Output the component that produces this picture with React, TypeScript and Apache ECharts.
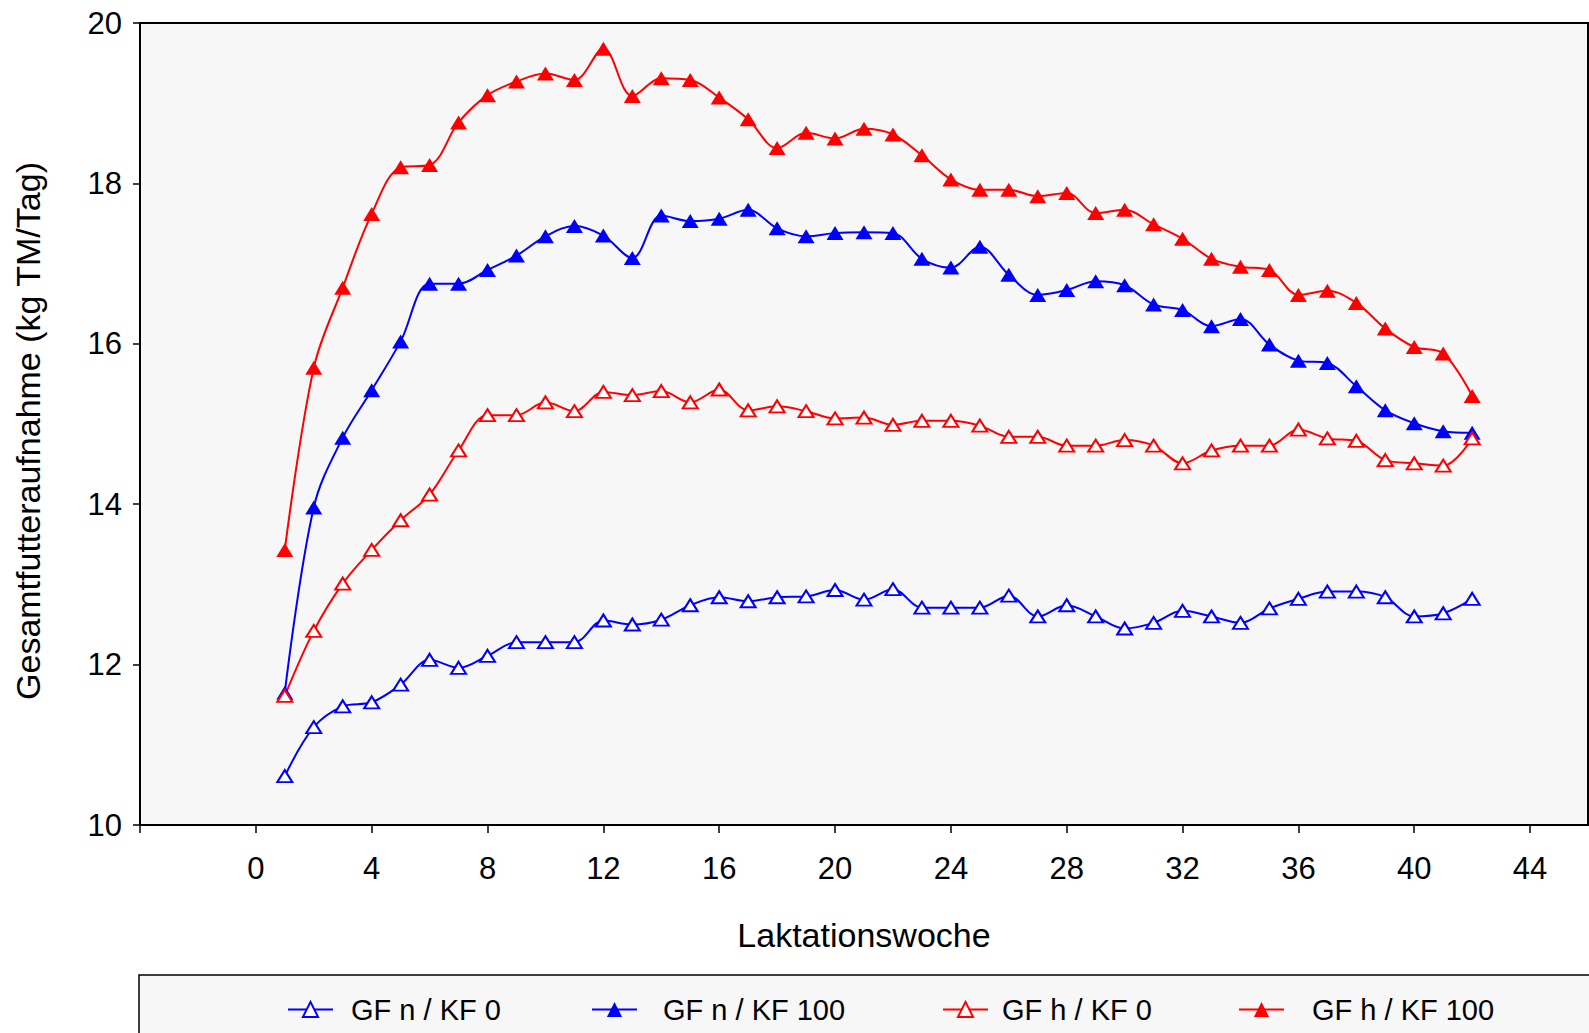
import React, { useEffect, useRef } from "react";
import * as echarts from "echarts";

const weeks = [1,2,3,4,5,6,7,8,9,10,11,12,13,14,15,16,17,18,19,20,21,22,23,24,25,26,27,28,29,30,31,32,33,34,35,36,37,38,39,40,41,42];

const gfnKf0 = [10.61,11.22,11.48,11.53,11.75,12.06,11.96,12.11,12.28,12.28,12.28,12.55,12.5,12.56,12.74,12.84,12.79,12.84,12.85,12.93,12.81,12.94,12.71,12.71,12.71,12.86,12.6,12.74,12.6,12.45,12.52,12.67,12.6,12.52,12.7,12.82,12.91,12.91,12.84,12.6,12.64,12.82];
const gfnKf100 = [11.65,13.96,14.83,15.42,16.03,16.75,16.75,16.92,17.1,17.34,17.47,17.35,17.07,17.6,17.53,17.56,17.67,17.44,17.34,17.38,17.39,17.38,17.06,16.95,17.21,16.86,16.61,16.67,16.78,16.73,16.49,16.42,16.22,16.31,15.99,15.79,15.76,15.47,15.17,15.01,14.91,14.89];
const gfhKf0 = [11.61,12.42,13.01,13.43,13.8,14.12,14.67,15.11,15.11,15.27,15.16,15.4,15.36,15.41,15.27,15.43,15.17,15.22,15.16,15.07,15.08,14.99,15.04,15.04,14.98,14.84,14.84,14.73,14.73,14.8,14.73,14.51,14.67,14.73,14.73,14.93,14.82,14.79,14.55,14.51,14.48,14.82];
const gfhKf100 = [13.43,15.7,16.7,17.62,18.2,18.23,18.76,19.1,19.27,19.37,19.29,19.68,19.09,19.31,19.29,19.07,18.8,18.44,18.63,18.56,18.68,18.61,18.35,18.05,17.92,17.92,17.84,17.88,17.63,17.67,17.49,17.31,17.06,16.96,16.92,16.61,16.66,16.51,16.19,15.96,15.88,15.35];

const seriesNames = ["GF n / KF 0", "GF n / KF 100", "GF h / KF 0", "GF h / KF 100"];
const seriesColors = ["#0000ff", "#0000ff", "#ff0000", "#ff0000"];
const seriesFilled = [false, true, false, true];
const seriesValues = [gfnKf0, gfnKf100, gfhKf0, gfhKf100];
const legendLefts = [287, 591, 942, 1238];
const legendTextGaps = [13, 21, 9, 23];

const xTickValues = [-4, 0, 4, 8, 12, 16, 20, 24, 28, 32, 36, 40, 44];
const xLabelValues = [0, 4, 8, 12, 16, 20, 24, 28, 32, 36, 40, 44];

const xTitle = "Laktationswoche";
const yTitle = "Gesamtfutteraufnahme (kg TM/Tag)";

const FONT = "'Liberation Sans', Arial, sans-serif";

export default function App() {
  const ref = useRef<HTMLDivElement>(null);
  useEffect(() => {
    if (!ref.current) return;
    const chart = echarts.init(ref.current, undefined, { renderer: "svg" });
    const series = seriesNames.map((name, i) => ({
      name,
      type: "line",
      smooth: 0.35,
      data: weeks.map((w, j) => [w, seriesValues[i][j]]),
      symbol: "triangle",
      symbolSize: seriesFilled[i] ? [17, 14] : [15, 12],
      lineStyle: { color: seriesColors[i], width: 2 },
      itemStyle: seriesFilled[i]
        ? { color: seriesColors[i], borderWidth: 0 }
        : { color: "#ffffff", borderColor: seriesColors[i], borderWidth: 2 },
      emphasis: { disabled: true },
    }));
    chart.setOption({
      animation: false,
      backgroundColor: "#ffffff",
      textStyle: { fontFamily: FONT },
      grid: {
        left: 140,
        top: 23,
        right: 1,
        bottom: 208,
        show: true,
        backgroundColor: "#f7f7f7",
        borderColor: "#000000",
        borderWidth: 2,
      },
      graphic: [
        {
          type: "rect",
          shape: { x: 139, y: 975, width: 1500, height: 120 },
          style: { fill: "#f7f7f7", stroke: "#000000", lineWidth: 1.5 },
          z: -1,
        },
      ],
      legend: seriesNames.map((name, i) => ({
        data: [name],
        left: legendLefts[i],
        top: 995,
        padding: 0,
        itemWidth: 45,
        itemHeight: 19,
        selectedMode: false,
        textStyle: { fontFamily: FONT, fontSize: 29, color: "#000", padding: [0, 0, 0, legendTextGaps[i]] },
      })),
      xAxis: {
        type: "value",
        min: -4,
        max: 46,
        interval: 4,
        name: xTitle,
        nameLocation: "middle",
        nameGap: 93,
        nameTextStyle: { fontFamily: FONT, fontSize: 34, color: "#000", verticalAlign: "top" },
        axisLine: { show: true, onZero: false, lineStyle: { color: "#000", width: 2 } },
        axisTick: { show: true, length: 8, customValues: xTickValues, lineStyle: { color: "#000", width: 1.5 } },
        axisLabel: {
          fontFamily: FONT,
          fontSize: 31,
          color: "#000",
          margin: 28,
          customValues: xLabelValues,
        },
        splitLine: { show: false },
      },
      yAxis: {
        type: "value",
        min: 10,
        max: 20,
        interval: 2,
        name: yTitle,
        nameLocation: "middle",
        nameGap: 95,
        nameRotate: 90,
        nameTextStyle: { fontFamily: FONT, fontSize: 34, color: "#000", padding: [0, 14, 0, 0] },
        axisLine: { show: true, onZero: false, lineStyle: { color: "#000", width: 2 } },
        axisTick: { show: true, length: 7, lineStyle: { color: "#000", width: 1.5 } },
        axisLabel: { fontFamily: FONT, fontSize: 31, color: "#000", margin: 18 },
        splitLine: { show: false },
      },
      series,
    });
    return () => chart.dispose();
  }, []);
  return (
    <div
      ref={ref}
      style={{ position: "fixed", left: 0, top: 0, width: 1589, height: 1033 }}
    />
  );
}
